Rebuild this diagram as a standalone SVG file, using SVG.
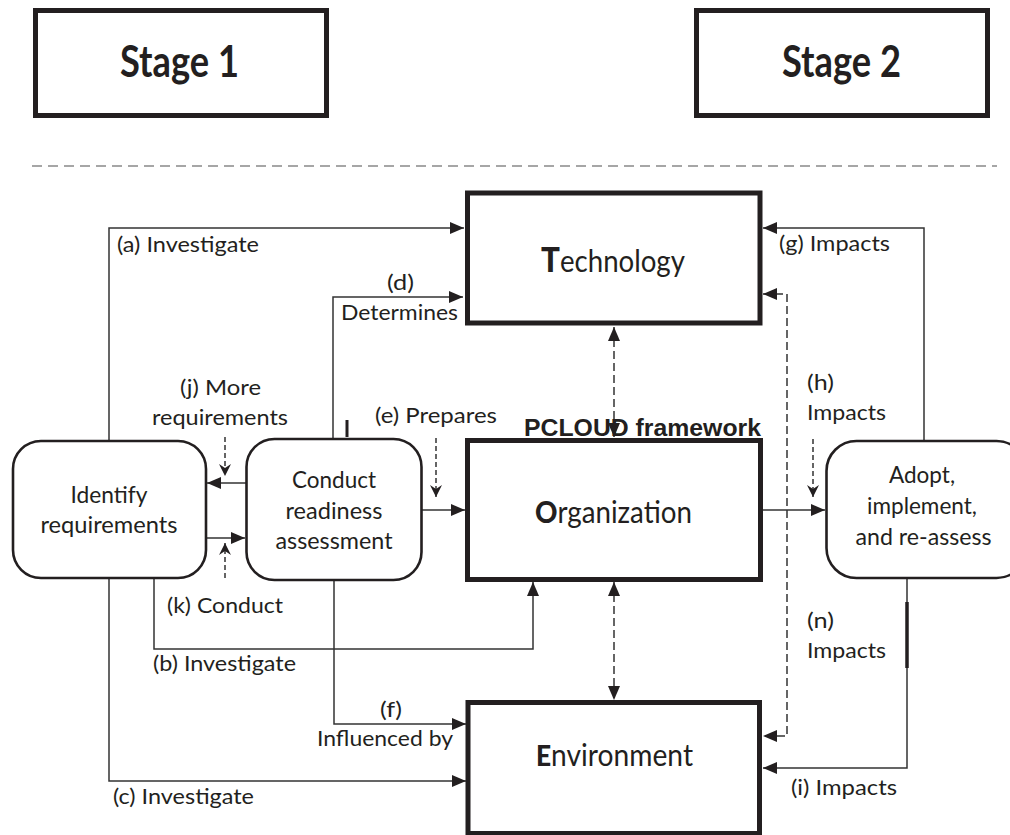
<svg xmlns="http://www.w3.org/2000/svg" width="1010" height="835" viewBox="0 0 1010 835">
<style>
  text { font-family: Lato, "Liberation Sans", sans-serif; fill: #231f20; }
  .lbl { font-size: 21px; }
  .nt { font-size: 23px; text-anchor: middle; }
  .big { font-size: 30px; }
  .ini { font-weight: 900; }
  .stage { font-size: 44px; font-weight: bold; }
  .pc { font-family: "Liberation Sans", Arial, sans-serif; font-weight: bold; font-size: 23px; }
  .box { fill: #fff; stroke: #231f20; stroke-width: 5; }
  .rbox { fill: #fff; stroke: #231f20; stroke-width: 2.6; }
  .ln { fill: none; stroke: #333; stroke-width: 1.5; }
  .dash { fill: none; stroke: #333; stroke-width: 1.5; stroke-dasharray: 8 4; }
  .sdash { fill: none; stroke: #333; stroke-width: 1.5; stroke-dasharray: 5 3; }
</style>
<defs>
  <marker id="ah" markerUnits="userSpaceOnUse" markerWidth="14" markerHeight="12" refX="14" refY="6" orient="auto-start-reverse">
    <path d="M0,0 L14,6 L0,12 z" fill="#231f20"/>
  </marker>
  <marker id="st" markerUnits="userSpaceOnUse" markerWidth="12" markerHeight="12" refX="12" refY="6" orient="auto">
    <path d="M0,0 L12,6 L0,12 L4,6 z" fill="#231f20"/>
  </marker>
</defs>

<g id="stage1">
  <rect class="box" x="35.5" y="10.5" width="291" height="105"/>
  <text class="stage" x="120" y="77" textLength="119" lengthAdjust="spacingAndGlyphs">Stage 1</text>
</g>
<g id="stage2">
  <rect class="box" x="696.5" y="10.5" width="291" height="105"/>
  <text class="stage" x="782" y="77" textLength="119" lengthAdjust="spacingAndGlyphs">Stage 2</text>
</g>
<line x1="32" y1="166" x2="997" y2="166" stroke="#a6a6a6" stroke-width="2" stroke-dasharray="10 6"/>

<g id="connectors">
  <path class="ln" d="M109,441 V228 H464" marker-end="url(#ah)"/>
  <path class="ln" d="M333,439 V297 H463" marker-end="url(#ah)"/>
  <path class="ln" d="M246,483 H207" marker-end="url(#ah)"/>
  <path class="sdash" d="M225,437 V476" marker-end="url(#st)"/>
  <path class="ln" d="M206,538 H245" marker-end="url(#ah)"/>
  <path class="sdash" d="M225,578 V543" marker-end="url(#st)"/>
  <path class="sdash" d="M436,438 V497" marker-end="url(#st)"/>
  <path class="ln" d="M422,510 H465" marker-end="url(#ah)"/>
  <path class="ln" d="M154,578 V649 H533 V582" marker-end="url(#ah)"/>
  <path class="ln" d="M109,578 V781 H466" marker-end="url(#ah)"/>
  <path class="ln" d="M334,580 V724 H466" marker-end="url(#ah)"/>
  <path class="dash" d="M614,327 V437" marker-start="url(#ah)" marker-end="url(#ah)"/>
  <path class="dash" d="M614,582 V700" marker-start="url(#ah)" marker-end="url(#ah)"/>
  <path class="ln" d="M763,510 H825" marker-end="url(#ah)"/>
  <path class="sdash" d="M813,439 V497" marker-end="url(#st)"/>
  <path class="ln" d="M924,441 V228 H763" marker-end="url(#ah)"/>
  <path class="dash" d="M763,294 H787 V736 H763" marker-start="url(#ah)" marker-end="url(#ah)"/>
  <path class="ln" d="M907,578 V768 H763" marker-end="url(#ah)"/>
  <line x1="907" y1="602" x2="907" y2="668" stroke="#231f20" stroke-width="3.5"/>
  <line x1="347" y1="420" x2="347" y2="437" stroke="#231f20" stroke-width="3"/>
</g>

<g id="technology">
  <rect class="box" x="467.5" y="193" width="292.5" height="130"/>
  <text class="big" x="541" y="272" textLength="144" lengthAdjust="spacingAndGlyphs"><tspan class="ini" style="font-size:34px">T</tspan>echnology</text>
</g>
<g id="organization">
  <rect class="box" x="467.5" y="440.5" width="293" height="139"/>
  <text class="big" x="535" y="523" textLength="157" lengthAdjust="spacingAndGlyphs"><tspan class="ini" style="font-size:30px">O</tspan>rganization</text>
</g>
<g id="environment">
  <rect class="box" x="468" y="702.5" width="291.5" height="131"/>
  <text class="big" x="536" y="766" textLength="157" lengthAdjust="spacingAndGlyphs"><tspan class="ini" style="font-size:28px">E</tspan>nvironment</text>
</g>
<g id="identify">
  <rect class="rbox" x="13" y="441" width="193" height="137" rx="28"/>
  <text class="nt" x="109" y="503" textLength="77" lengthAdjust="spacingAndGlyphs">Identify</text>
  <text class="nt" x="109" y="533" textLength="137" lengthAdjust="spacingAndGlyphs">requirements</text>
</g>
<g id="conduct">
  <rect class="rbox" x="246.5" y="439" width="175" height="141" rx="28"/>
  <text class="nt" x="334" y="488" textLength="84" lengthAdjust="spacingAndGlyphs">Conduct</text>
  <text class="nt" x="334" y="519" textLength="97" lengthAdjust="spacingAndGlyphs">readiness</text>
  <text class="nt" x="334" y="549" textLength="117" lengthAdjust="spacingAndGlyphs">assessment</text>
</g>
<g id="adopt">
  <rect class="rbox" x="826.5" y="441" width="200" height="137" rx="30"/>
  <text class="nt" x="922" y="483" textLength="66" lengthAdjust="spacingAndGlyphs">Adopt,</text>
  <text class="nt" x="922" y="514" textLength="110" lengthAdjust="spacingAndGlyphs">implement,</text>
  <text class="nt" x="923.5" y="545" textLength="136" lengthAdjust="spacingAndGlyphs">and re-assess</text>
</g>

<g id="labels">
  <text class="lbl" x="117" y="252" textLength="142" lengthAdjust="spacingAndGlyphs">(a) Investigate</text>
  <text class="lbl" x="387" y="290" textLength="27" lengthAdjust="spacingAndGlyphs">(d)</text>
  <text class="lbl" x="341" y="320" textLength="117" lengthAdjust="spacingAndGlyphs">Determines</text>
  <text class="lbl" x="180" y="395" textLength="81" lengthAdjust="spacingAndGlyphs">(j) More</text>
  <text class="lbl" x="152" y="425" textLength="136" lengthAdjust="spacingAndGlyphs">requirements</text>
  <text class="lbl" x="375" y="423" textLength="122" lengthAdjust="spacingAndGlyphs">(e) Prepares</text>
  <text class="pc" x="524" y="436" textLength="237" lengthAdjust="spacingAndGlyphs">PCLOUD framework</text>
  <text class="lbl" x="167" y="613" textLength="116" lengthAdjust="spacingAndGlyphs">(k) Conduct</text>
  <text class="lbl" x="153" y="671" textLength="143" lengthAdjust="spacingAndGlyphs">(b) Investigate</text>
  <text class="lbl" x="380" y="717" textLength="22" lengthAdjust="spacingAndGlyphs">(f)</text>
  <text class="lbl" x="317" y="746" textLength="136" lengthAdjust="spacingAndGlyphs">Influenced by</text>
  <text class="lbl" x="113" y="804" textLength="141" lengthAdjust="spacingAndGlyphs">(c) Investigate</text>
  <text class="lbl" x="779" y="251" textLength="111" lengthAdjust="spacingAndGlyphs">(g) Impacts</text>
  <text class="lbl" x="807" y="390" textLength="27" lengthAdjust="spacingAndGlyphs">(h)</text>
  <text class="lbl" x="807" y="420" textLength="79" lengthAdjust="spacingAndGlyphs">Impacts</text>
  <text class="lbl" x="807" y="628" textLength="27" lengthAdjust="spacingAndGlyphs">(n)</text>
  <text class="lbl" x="807" y="658" textLength="79" lengthAdjust="spacingAndGlyphs">Impacts</text>
  <text class="lbl" x="791" y="795" textLength="106" lengthAdjust="spacingAndGlyphs">(i) Impacts</text>
</g>
</svg>
